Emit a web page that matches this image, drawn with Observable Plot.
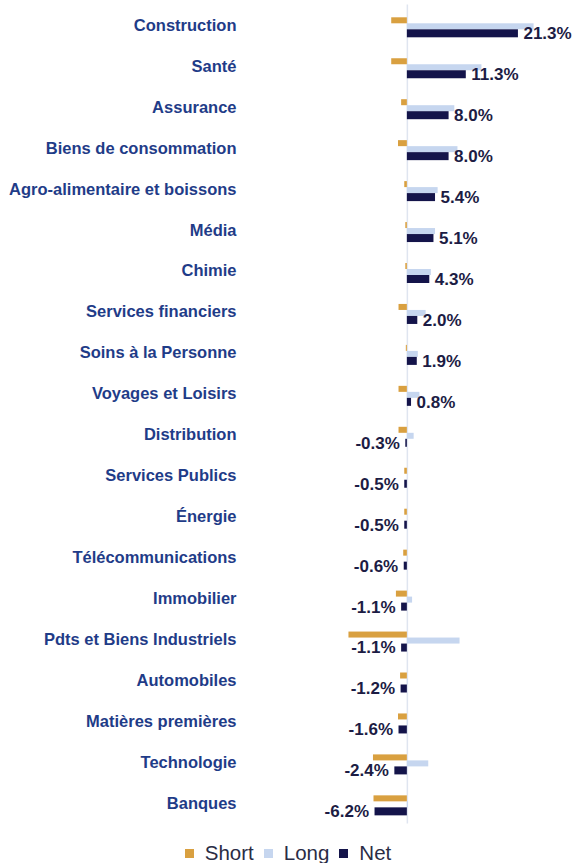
<!DOCTYPE html>
<html>
<head>
<meta charset="utf-8">
<script src="https://cdn.jsdelivr.net/npm/d3@7"></script>
<script src="https://cdn.jsdelivr.net/npm/@observablehq/plot@0.6"></script>
<style>
  body { margin: 0; background: #fff; font-family: "Liberation Sans", Arial, sans-serif; }
  #legend { display: flex; justify-content: center; align-items: center; height: 28px; padding-top: 4px; font-size: 20.5px; color: #2a2c45; }
  #legend .item { display: flex; align-items: center; margin: 0 5px; }
  #legend .sw { width: 9px; height: 9px; margin-right: 11px; }
</style>
</head>
<body>
<div id="chart"></div>
<div id="legend"></div>
<script>
const categories = ["Construction","Santé","Assurance","Biens de consommation","Agro-alimentaire et boissons","Média","Chimie","Services financiers","Soins à la Personne","Voyages et Loisirs","Distribution","Services Publics","Énergie","Télécommunications","Immobilier","Pdts et Biens Industriels","Automobiles","Matières premières","Technologie","Banques"];
const shortValues = [-3.0,-3.0,-1.1,-1.7,-0.5,-0.3,-0.3,-1.6,-0.2,-1.6,-1.6,-0.5,-0.5,-0.7,-2.1,-11.2,-1.3,-1.7,-6.5,-6.4];
const longValues  = [24.3,14.3,9.1,9.7,5.9,5.4,4.6,3.6,2.1,2.4,1.3,0.0,0.0,0.1,1.0,10.1,0.1,0.1,4.1,0.2];
const netValues   = [21.3,11.3,8.0,8.0,5.4,5.1,4.3,2.0,1.9,0.8,-0.3,-0.5,-0.5,-0.6,-1.1,-1.1,-1.2,-1.6,-2.4,-6.2];
const seriesNames = ["Short","Long","Net"];
const colors = ["#d9a040","#c6d6ef","#14144a"];

const data = categories.map((c, i) => ({cat: c, short: shortValues[i], long: longValues[i], net: netValues[i]}));
const fmt = v => v.toFixed(1) + "%";

const chart = Plot.plot({
  width: 576,
  height: 835,
  marginTop: 4.5,
  marginBottom: 11.5,
  marginLeft: 240,
  marginRight: 12.7,
  style: {fontFamily: "'Liberation Sans', Arial, sans-serif"},
  x: {domain: [-32, 30], axis: null},
  y: {type: "band", domain: categories, padding: 0, round: false, label: null},
  marks: [
    Plot.ruleX([0], {stroke: "#dfe5f0", strokeWidth: 1.5}),
    Plot.barX(data, {x: "short", y: "cat", fill: colors[0], insetTop: 12.8, insetBottom: 22.15}),
    Plot.barX(data, {x: "long", y: "cat", fill: colors[1], insetTop: 18.8, insetBottom: 16.15}),
    Plot.barX(data, {x: "net", y: "cat", fill: colors[2], insetTop: 24.8, insetBottom: 8.15}),
    Plot.text(data.filter(d => d.net >= 0), {x: "net", y: "cat", text: d => fmt(d.net), textAnchor: "start", dx: 5, dy: 8.3, fontSize: 17, fontWeight: "bold", fill: "#1c1c44"}),
    Plot.text(data.filter(d => d.net < 0), {x: "net", y: "cat", text: d => fmt(d.net), textAnchor: "end", dx: -6, dy: 8.3, fontSize: 17, fontWeight: "bold", fill: "#1c1c44"}),
    Plot.axisY({tickSize: 0, tickPadding: 4, fontSize: 16.5, fontWeight: "bold", fill: "#1f3c88", label: null})
  ]
});
document.getElementById("chart").appendChild(chart);

const legend = document.getElementById("legend");
seriesNames.forEach((name, i) => {
  const item = document.createElement("div");
  item.className = "item";
  const sw = document.createElement("div");
  sw.className = "sw";
  sw.style.background = colors[i];
  const t = document.createElement("span");
  t.textContent = name;
  item.appendChild(sw);
  item.appendChild(t);
  legend.appendChild(item);
});
</script>
</body>
</html>
